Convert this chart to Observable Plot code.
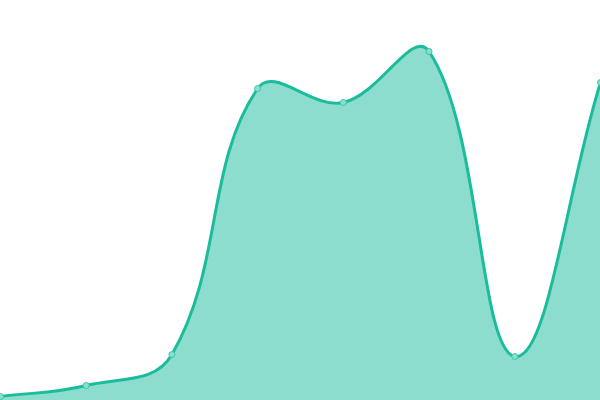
<!DOCTYPE html>
<html>
<head>
<meta charset="utf-8">
<script src="https://cdn.jsdelivr.net/npm/d3@7"></script>
<script src="https://cdn.jsdelivr.net/npm/@observablehq/plot@0.6"></script>
<style>
  html, body { margin: 0; padding: 0; background: #fff; }
  svg { display: block; }
</style>
</head>
<body>
<div id="chart"></div>
<script>
const xs = [0, 1, 2, 3, 4, 5, 6, 7];
const values = [4, 15, 46, 312, 298, 349, 44, 318];
const data = xs.map((x, i) => ({x, v: values[i]}));

// Spline with distance-weighted control points (tension 0.4)
function splineCurve(context) {
  const T = 0.4;
  return {
    areaStart() { this._line = 0; },
    areaEnd() { this._line = NaN; },
    lineStart() { this._pts = []; },
    point(x, y) { this._pts.push([+x, +y]); },
    lineEnd() {
      const p = this._pts, n = p.length;
      if (n) {
        if (this._line) context.lineTo(p[0][0], p[0][1]);
        else context.moveTo(p[0][0], p[0][1]);
        const cps = p.map((cur, i) => {
          const prev = p[i - 1] || cur, next = p[i + 1] || cur;
          const d01 = Math.hypot(cur[0] - prev[0], cur[1] - prev[1]);
          const d12 = Math.hypot(next[0] - cur[0], next[1] - cur[1]);
          let s01 = d01 / (d01 + d12), s12 = d12 / (d01 + d12);
          if (!isFinite(s01)) s01 = 0;
          if (!isFinite(s12)) s12 = 0;
          const fa = T * s01, fb = T * s12;
          const dx = next[0] - prev[0], dy = next[1] - prev[1];
          return {
            inX: cur[0] - fa * dx, inY: cur[1] - fa * dy,
            outX: cur[0] + fb * dx, outY: cur[1] + fb * dy
          };
        });
        for (let i = 1; i < n; i++) {
          context.bezierCurveTo(cps[i - 1].outX, cps[i - 1].outY, cps[i].inX, cps[i].inY, p[i][0], p[i][1]);
        }
      }
      if (this._line || (this._line !== 0 && n === 1)) context.closePath();
      this._line = 1 - this._line;
    }
  };
}

const chart = Plot.plot({
  width: 600,
  height: 400,
  margin: 0,
  x: {domain: [0, 7], axis: null},
  y: {domain: [0, 400], axis: null},
  marks: [
    Plot.areaY(data, {x: "x", y: "v", curve: splineCurve, fill: "#1abc9c", fillOpacity: 0.5}),
    Plot.lineY(data, {x: "x", y: "v", curve: splineCurve, stroke: "#1abc9c", strokeWidth: 3}),
    Plot.dot(data, {x: "x", y: "v", r: 3, fill: "#8cdfcf", stroke: "#3cc6a8", strokeWidth: 1})
  ]
});
document.getElementById("chart").append(chart);
</script>
</body>
</html>
